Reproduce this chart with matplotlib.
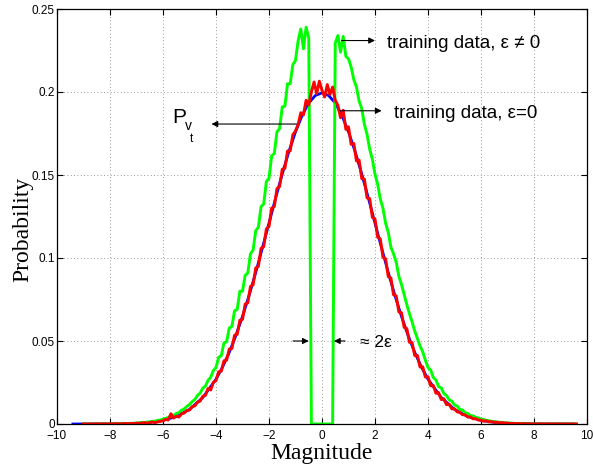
import numpy as np
import matplotlib
matplotlib.use("Agg")
from matplotlib import pyplot as plt

plt.rcParams['font.family'] = ['Liberation Sans', 'DejaVu Sans']
plt.rcParams['axes.unicode_minus'] = True

# ideal density of the noise (blue)
pv_x = [-9.4, -8.0, -7.0, -6.5, -6.0, -5.5, -5.0, -4.5, -4.0, -3.75, -3.5, -3.25,
        -3.0, -2.75, -2.5, -2.25, -2.0, -1.75, -1.5, -1.25, -1.0, -0.75, -0.5, -0.25,
        0.0, 0.25, 0.5, 0.75, 1.0, 1.25, 1.5, 1.75, 2.0, 2.25, 2.5, 2.75,
        3.0, 3.25, 3.5, 3.75, 4.0, 4.5, 5.0, 5.5, 6.0, 6.5, 7.0, 8.0, 9.5]
pv_y = [0.0, 0.0001, 0.0004, 0.0010, 0.0022, 0.0045, 0.0088, 0.0159, 0.0270, 0.0344, 0.0431, 0.0533,
        0.0648, 0.0775, 0.0913, 0.1060, 0.1210, 0.1361, 0.1506, 0.1641, 0.1760, 0.1859, 0.1934, 0.1979,
        0.1995, 0.1979, 0.1934, 0.1859, 0.1760, 0.1641, 0.1506, 0.1361, 0.1210, 0.1060, 0.0913, 0.0775,
        0.0648, 0.0533, 0.0431, 0.0344, 0.0270, 0.0159, 0.0088, 0.0045, 0.0022, 0.0010, 0.0004, 0.0001, 0.0]

# histogram bins, -9.0 .. 9.6 step 0.1
bins = np.linspace(-9.0, 9.6, 187)

# training data, eps = 0 (red)
train0 = [
    0, 0, 0, 0, 0, 0.0001, 0, 0, 0.0001, 0,
    0.0001, 0, 0.0002, 0.0001, 0, 0.0002, 0.0003, 0.0001, 0.0004, 0.0002,
    0.0005, 0.0003, 0.0006, 0.0008, 0.0005, 0.0009, 0.0012, 0.0008, 0.0013, 0.0016,
    0.0019, 0.0028, 0.0024, 0.0062, 0.0036, 0.0047, 0.0042, 0.0061, 0.0066, 0.0081,
    0.0084, 0.0104, 0.0109, 0.0131, 0.0138, 0.0167, 0.0172, 0.0214, 0.0205, 0.0251,
    0.0262, 0.0315, 0.0318, 0.0381, 0.0384, 0.0452, 0.0455, 0.0535, 0.0540, 0.0625,
    0.0630, 0.0722, 0.0730, 0.0828, 0.0838, 0.0940, 0.0950, 0.1058, 0.1068, 0.1175,
    0.1190, 0.1300, 0.1310, 0.1418, 0.1430, 0.1535, 0.1540, 0.1645, 0.1645, 0.1742,
    0.1765, 0.1805, 0.1875, 0.1862, 0.1950, 0.1922, 0.2000, 0.2060, 0.1990, 0.2065,
    0.2010, 0.1970, 0.2045, 0.1985, 0.2030, 0.1950, 0.1920, 0.1845, 0.1890, 0.1775,
    0.1790, 0.1685, 0.1690, 0.1585, 0.1590, 0.1478, 0.1475, 0.1362, 0.1358, 0.1245,
    0.1235, 0.1125, 0.1115, 0.1005, 0.0995, 0.0888, 0.0880, 0.0778, 0.0772, 0.0675,
    0.0670, 0.0582, 0.0575, 0.0492, 0.0490, 0.0412, 0.0413, 0.0343, 0.0345, 0.0283,
    0.0285, 0.0230, 0.0232, 0.0185, 0.0189, 0.0147, 0.0152, 0.0116, 0.0120, 0.0091,
    0.0092, 0.0073, 0.0071, 0.0056, 0.0055, 0.0042, 0.0043, 0.0031, 0.0032, 0.0024,
    0.0023, 0.0017, 0.0019, 0.0013, 0.0014, 0.0010, 0.0011, 0.0007, 0.0008, 0.0005,
    0.0006, 0.0003, 0.0004, 0.0002, 0.0003, 0.0001, 0.0002, 0.0001, 0.0002, 0,
    0.0001, 0, 0.0001, 0, 0, 0.0001, 0, 0, 0, 0,
    0, 0, 0, 0, 0, 0, 0]

# training data, eps != 0 (green)
train_eps = [
    0, 0, 0, 0, 0, 0, 0, 0, 0.0001, 0,
    0, 0.0001, 0.0001, 0.0002, 0.0001, 0.0003, 0.0002, 0.0004, 0.0003, 0.0005,
    0.0006, 0.0006, 0.0009, 0.0009, 0.0012, 0.0013, 0.0016, 0.0017, 0.0022, 0.0024,
    0.0030, 0.0034, 0.0040, 0.0047, 0.0053, 0.0062, 0.0069, 0.0083, 0.0091, 0.0106,
    0.0117, 0.0135, 0.0147, 0.0172, 0.0186, 0.0215, 0.0228, 0.0263, 0.0281, 0.0322,
    0.0340, 0.0402, 0.0412, 0.0488, 0.0495, 0.0578, 0.0588, 0.0682, 0.0690, 0.0800,
    0.0800, 0.0895, 0.0910, 0.1025, 0.1048, 0.1165, 0.1185, 0.1310, 0.1325, 0.1460,
    0.1480, 0.1615, 0.1630, 0.1760, 0.1780, 0.1910, 0.1915, 0.2050, 0.2050, 0.2165,
    0.2190, 0.2310, 0.2380, 0.2260, 0.2390, 0.2325, 0, 0, 0, 0,
    0, 0, 0, 0, 0, 0.2295, 0.2340, 0.2240, 0.2335, 0.2215,
    0.2200, 0.2150, 0.2075, 0.2030, 0.1945, 0.1900, 0.1805, 0.1745, 0.1655, 0.1595,
    0.1505, 0.1445, 0.1355, 0.1300, 0.1210, 0.1155, 0.1065, 0.1025, 0.0975, 0.0890,
    0.0840, 0.0780, 0.0720, 0.0665, 0.0615, 0.0560, 0.0515, 0.0470, 0.0435, 0.0385,
    0.0340, 0.0325, 0.0280, 0.0265, 0.0225, 0.0218, 0.0183, 0.0172, 0.0145, 0.0138,
    0.0115, 0.0108, 0.0088, 0.0085, 0.0067, 0.0064, 0.0051, 0.0049, 0.0039, 0.0037,
    0.0028, 0.0028, 0.0021, 0.0020, 0.0016, 0.0015, 0.0011, 0.0011, 0.0008, 0.0008,
    0.0005, 0.0006, 0.0004, 0.0004, 0.0002, 0.0003, 0.0001, 0.0002, 0.0001, 0.0001,
    0, 0.0001, 0, 0, 0.0001, 0, 0, 0, 0, 0,
    0, 0, 0, 0, 0, 0, 0]

xticks = np.arange(-10, 11, 2)
yticks = [0, 0.05, 0.1, 0.15, 0.2, 0.25]
ytick_labels = ['0', '0.05', '0.1', '0.15', '0.2', '0.25']

fig = plt.figure(figsize=(5.93, 4.70), dpi=100)
ax = fig.add_axes([57/593., 46/470., 530/593., 415/470.])

ax.plot(pv_x, pv_y, color='b', lw=2.0)
ax.plot(bins, train_eps, color=(0, 1, 0), lw=2.1)
ax.plot(bins, train0, color='r', lw=2.1)

ax.set_xlim(-10, 10)
ax.set_ylim(0, 0.25)
ax.set_xticks(xticks)
ax.set_yticks(yticks)
ax.set_yticklabels(ytick_labels)
ax.tick_params(direction='in', top=True, right=True, length=4, width=0.8,
               labelsize=8.5)
ax.tick_params(axis='x', pad=4)
ax.tick_params(axis='y', pad=1.5)
ax.grid(True, linestyle=(0, (1, 3)), color='#777777', lw=0.6)
for s in ax.spines.values():
    s.set_linewidth(0.9)

ax.set_xlabel('Magnitude', family='Liberation Serif', fontsize=17)
ax.set_ylabel('Probability', family='Liberation Serif', fontsize=17)
ax.xaxis.set_label_coords(0.5, -0.045)
ax.yaxis.set_label_coords(-0.045, 0.47)

arr = dict(arrowstyle='-|>', color='k', lw=0.8, mutation_scale=9,
           shrinkA=0, shrinkB=0)
ax.annotate('', xy=(2.0, 0.231), xytext=(0.74, 0.231), arrowprops=arr)
ax.annotate('', xy=(2.25, 0.1887), xytext=(0.68, 0.1887), arrowprops=arr)
ax.annotate('', xy=(-4.17, 0.1807), xytext=(-0.96, 0.1807), arrowprops=arr)
ax.annotate('', xy=(-0.5, 0.05), xytext=(-1.09, 0.05), arrowprops=arr)
ax.annotate('', xy=(0.45, 0.05), xytext=(0.87, 0.05), arrowprops=arr)

ax.text(2.44, 0.229, u'training data, \u03b5 \u2260 0', fontsize=13.5, va='center')
ax.text(2.72, 0.187, u'training data, \u03b5=0', fontsize=13.5, va='center')
ax.text(1.43, 0.0488, u'\u2248 2\u03b5', fontsize=12.5, va='center')

ax.text(-5.64, 0.1813, 'P', fontsize=15, va='baseline')
ax.text(-5.17, 0.1771, 'v', fontsize=10, va='baseline')
ax.text(-4.97, 0.1700, 't', fontsize=8.5, va='baseline')

fig.savefig('out.png', dpi=100)
